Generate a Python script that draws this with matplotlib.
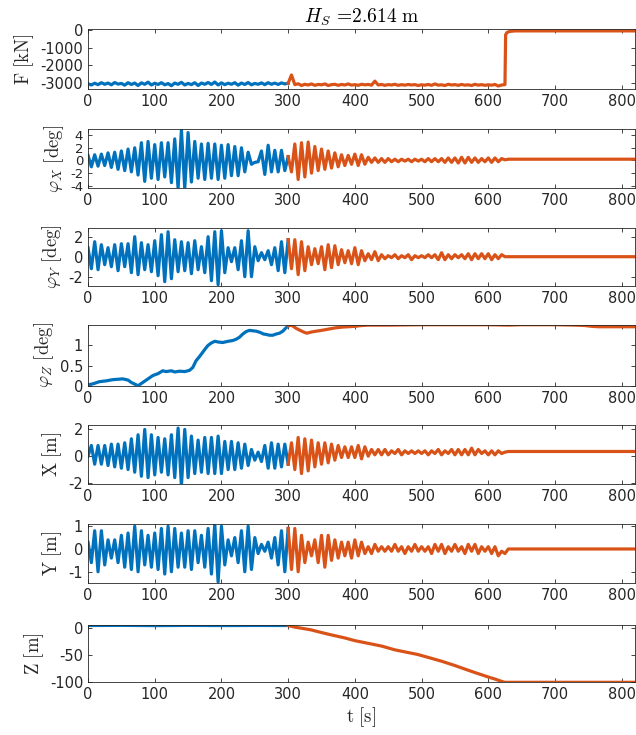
import numpy as np
import matplotlib
matplotlib.use('Agg')
import matplotlib.pyplot as plt

# time grids (s): blue = first phase, orange = second phase
t_blue = np.arange(0, 301, 5)
t_orange = np.arange(300, 626, 5)

# F [kN]
F_blue = [-3050, -3120, -3020, -3100, -2990, -3080, -3010, -3110, -2980, -3070,
          -3030, -3130, -2990, -3090, -3010, -3150, -3000, -3080, -2960, -3120,
          -3020, -3090, -2990, -3110, -3040, -3160, -3010, -3080, -2970, -3120,
          -3030, -3100, -2990, -3150, -3010, -3080, -2980, -3090, -2950, -3120,
          -3000, -3100, -3020, -3080, -2990, -3130, -3010, -3090, -2980, -3110,
          -3030, -3080, -3000, -3100, -2990, -3080, -3010, -3090, -3000, -3060,
          -3020]
F_orange = [-3020, -2550, -3100, -3050, -3150, -3080, -3120, -3060, -3140, -3090,
            -3110, -3060, -3150, -3100, -3080, -3140, -3090, -3120, -3060, -3130,
            -3100, -3140, -3080, -3110, -3090, -3130, -2900, -3120, -3090, -3140,
            -3100, -3120, -3080, -3140, -3100, -3130, -3090, -3120, -3100, -3150,
            -3110, -3130, -3090, -3140, -3060, -3130, -3110, -3150, -3080, -3120,
            -3100, -3140, -3090, -3130, -3110, -3150, -3080, -3130, -3100, -3140,
            -3110, -3130, -3090, -3180, -3120, -3100]
F_tail_t = [626, 628, 632, 640, 820]
F_tail = [-250, -120, -60, -30, -30]

# roll phi_X [deg]
phix_blue = [0.8, -1.0, 0.9, -0.9, 1.0, -0.8, 1.2, -1.1, 1.3, -1.4,
             1.5, -1.6, 1.8, -1.8, 2.0, -2.3, 2.8, -3.3, 3.0, -2.8,
             2.5, -3.0, 2.8, -2.6, 2.8, -3.5, 3.4, -4.4, 4.8, -4.4,
             4.4, -3.4, 3.0, -2.8, 2.6, -3.0, 2.7, -2.8, 2.6, -3.0,
             2.4, -2.8, 2.5, -2.4, 2.2, -2.4, 2.0, -1.8, 1.3, -0.6,
             -0.3, -0.2, 1.5, -2.2, 2.4, -1.8, 1.6, -1.8, 1.6, -1.6,
             0.6]
phix_orange = [0.6, -1.8, 2.6, -3.0, 2.8, -2.6, 2.9, -2.0, 2.2, -1.6,
               1.8, -1.4, 1.5, -1.2, 1.2, -1.0, 0.9, -0.8, 0.8, -0.6,
               1.0, -0.8, 0.9, -0.6, 0.5, -0.3, 0.4, -0.3, 0.3, -0.3,
               0.3, -0.2, 0.2, -0.2, 0.2, -0.1, 0.2, -0.2, 0.2, -0.1,
               0.2, -0.2, 0.3, -0.2, 0.3, -0.2, 0.3, -0.3, 0.4, -0.3,
               0.4, -0.4, 0.5, -0.4, 0.5, -0.3, 0.4, -0.3, 0.3, -0.2,
               0.4, -0.3, 0.4, -0.2, 0.3, 0.1]
phix_tail_t = [630, 820]
phix_tail = [0.2, 0.2]

# pitch phi_Y [deg]
phiy_blue = [0.9, -1.2, 1.5, -1.3, 1.2, -0.8, 0.9, -1.0, 1.2, -1.4,
             1.3, -1.0, 1.3, -1.6, 2.0, -1.8, 1.4, -1.3, 1.2, -1.5,
             1.6, -1.9, 2.2, -2.5, 2.5, -2.2, 1.7, -1.5, 1.5, -1.4,
             1.4, -1.7, 1.6, -1.3, 1.0, -1.6, 2.0, -2.4, 2.5, -2.8,
             2.6, -1.6, 0.9, -0.5, 0.9, -1.3, 1.6, -2.0, 2.6, -2.0,
             1.0, -0.4, 0.4, -0.3, 0.6, -0.8, 0.9, -1.4, 1.5, -1.6,
             1.7]
phiy_orange = [1.7, -1.2, 1.7, -1.8, 1.5, -1.4, 1.0, -0.8, 0.8, -0.7,
               1.0, -1.3, 1.2, -1.1, 1.1, -0.8, 0.7, -0.6, 0.6, -0.7,
               0.9, -0.8, 0.6, -0.4, 0.3, -0.3, 0.5, -0.4, 0.2, -0.2,
               0.1, -0.1, 0.2, -0.2, 0.1, -0.1, 0.2, -0.3, 0.1, -0.1,
               0.1, -0.1, 0.2, -0.1, 0.2, -0.3, 0.4, -0.3, 0.2, -0.2,
               0.2, -0.1, 0.2, -0.2, 0.3, -0.3, 0.3, -0.2, 0.3, -0.2,
               0.3, -0.3, 0.2, -0.2, 0.2, 0.0]
phiy_tail_t = [630, 820]
phiy_tail = [0.0, 0.0]

# yaw phi_Z [deg]
phiz_blue_t = [0, 8, 17, 27, 37, 45, 52, 60, 65, 70,
               75, 82, 90, 97, 105, 112, 117, 125, 130, 137,
               145, 152, 157, 162, 167, 172, 176, 180, 185, 190,
               196, 202, 210, 217, 222, 227, 232, 237, 242, 247,
               252, 258, 263, 267, 272, 277, 282, 287, 292, 296,
               300]
phiz_blue = [0.02, 0.05, 0.10, 0.12, 0.15, 0.16, 0.17, 0.14, 0.08, 0.04,
             0.0, 0.08, 0.17, 0.25, 0.30, 0.37, 0.35, 0.37, 0.34, 0.36,
             0.35, 0.38, 0.45, 0.62, 0.72, 0.83, 0.92, 1.0, 1.06, 1.1,
             1.08, 1.07, 1.1, 1.12, 1.15, 1.2, 1.28, 1.34, 1.37, 1.36,
             1.35, 1.32, 1.28, 1.27, 1.25, 1.25, 1.28, 1.3, 1.35, 1.42,
             1.48]
phiz_orange_t = [300, 305, 312, 318, 323, 328, 335, 342, 350, 360,
                 370, 380, 390, 400, 410, 420, 450, 500, 550, 600,
                 630, 650, 680, 700, 730, 745, 755, 765, 790, 820]
phiz_orange = [1.48, 1.5, 1.42, 1.37, 1.33, 1.30, 1.33, 1.35, 1.37, 1.40,
               1.43, 1.45, 1.46, 1.47, 1.49, 1.50, 1.50, 1.51, 1.51, 1.51,
               1.50, 1.51, 1.51, 1.51, 1.50, 1.49, 1.47, 1.46, 1.46, 1.46]

# surge X [m]
x_blue = [0.0, 0.8, -0.6, 0.8, -0.6, 0.8, -0.7, 0.9, -0.8, 0.9,
          -0.9, 1.0, -1.0, 1.3, -1.2, 1.6, -1.5, 2.0, -1.6, 1.6,
          -1.4, 1.4, -1.2, 1.3, -1.4, 1.6, -1.6, 2.1, -2.2, 2.0,
          -1.6, 1.5, -1.3, 1.2, -1.2, 1.4, -1.3, 1.4, -1.3, 1.5,
          -1.3, 1.1, -1.0, 1.1, -1.0, 1.0, -0.9, 0.9, -0.7, 0.5,
          -0.3, 0.3, -0.4, 0.8, -0.9, 1.0, -0.9, 0.9, -0.8, 0.9,
          -0.6]
x_orange = [-0.6, 1.0, -1.0, 1.4, -1.3, 1.3, -1.1, 1.2, -0.8, 1.0,
            -0.6, 1.0, -0.5, 0.9, -0.3, 0.8, -0.1, 0.7, -0.1, 0.7,
            -0.1, 0.8, -0.2, 0.7, 0.0, 0.5, 0.1, 0.5, 0.1, 0.5,
            0.1, 0.4, 0.2, 0.5, 0.1, 0.4, 0.2, 0.4, 0.2, 0.4,
            0.2, 0.4, 0.1, 0.4, 0.2, 0.5, 0.1, 0.4, 0.2, 0.5,
            0.1, 0.5, 0.1, 0.5, 0.1, 0.6, 0.1, 0.5, 0.2, 0.4,
            0.1, 0.4, 0.1, 0.4, 0.2, 0.3]
x_tail_t = [630, 820]
x_tail = [0.35, 0.35]

# sway Y [m]
y_blue = [0.3, -0.6, 0.8, -1.0, 0.8, -0.7, 0.4, -0.4, 0.4, -0.6,
          0.6, -0.8, 0.7, -0.9, 1.0, -1.0, 0.8, -0.7, 0.6, -0.8,
          0.7, -0.9, 0.9, -1.1, 1.0, -1.0, 0.9, -0.8, 0.7, -0.8,
          0.8, -0.9, 0.8, -0.6, 0.6, -0.8, 0.9, -1.1, 1.1, -1.45,
          1.0, -0.7, 0.4, -0.3, 0.5, -0.6, 0.8, -1.0, 1.0, -0.9,
          0.5, -0.2, 0.2, -0.1, 0.3, -0.4, 0.5, -0.7, 0.8, -1.0,
          0.9]
y_orange = [0.9, -0.9, 0.9, -1.0, 0.6, -0.6, 0.3, -0.3, 0.4, -0.6,
            0.6, -0.8, 0.6, -0.5, 0.4, -0.4, 0.3, -0.3, 0.3, -0.4,
            0.4, -0.3, 0.3, -0.2, 0.1, -0.2, 0.2, -0.1, 0.1, -0.1,
            0.1, -0.1, 0.2, -0.1, 0.1, -0.2, 0.1, -0.1, 0.2, -0.1,
            0.1, -0.1, 0.1, -0.2, 0.2, -0.1, 0.2, -0.2, 0.1, -0.1,
            0.2, -0.1, 0.1, -0.2, 0.2, -0.1, 0.2, -0.2, 0.1, -0.1,
            0.1, -0.2, 0.1, -0.3, -0.1, -0.2]
y_tail_t = [630, 820]
y_tail = [0.0, 0.0]

# heave Z [m]
z_blue_t = [0, 50, 100, 150, 200, 250, 300]
z_blue = [5.0, 5.3, 4.8, 5.2, 4.9, 5.1, 5.0]
z_orange_t = [300, 310, 320, 334, 350, 360, 385, 400, 420, 440, 460, 480,
              494, 510, 530, 550, 566, 580, 602, 610, 617, 623, 625, 820]
z_orange = [5, 2, 0, -3, -8, -11, -18, -23, -28, -33, -40, -45,
            -48.5, -54, -61, -69, -76, -82, -91, -94, -97, -99.5, -100, -100]

blue = '#0072BD'
orange = '#D95319'
edge = '#262626'

plt.rcParams.update({
    'font.family': 'DejaVu Sans',
    'font.size': 10.5,
    'axes.unicode_minus': False,
    'mathtext.fontset': 'cm',
    'axes.linewidth': 0.6,
    'axes.edgecolor': edge,
    'xtick.color': edge,
    'ytick.color': edge,
    'xtick.direction': 'in',
    'ytick.direction': 'in',
    'xtick.top': True,
    'ytick.right': True,
    'xtick.major.size': 3,
    'ytick.major.size': 3,
    'xtick.major.width': 0.6,
    'ytick.major.width': 0.6,
})

fig = plt.figure(figsize=(6.36, 7.35), dpi=100)

panels = [
    # (bottom, height, blue series, orange series, ylabel, ylim, yticks, yticklabels)
    (0.8789, 0.0812, (t_blue, F_blue), (list(t_orange) + F_tail_t, F_orange + F_tail),
     r'$\mathrm{F\ [kN]}$', (-3350, 60), [-3000, -2000, -1000, 0], None),
    (0.7437, 0.0807, (t_blue, phix_blue), (list(t_orange) + phix_tail_t, phix_orange + phix_tail),
     r'$\varphi_X\ \mathrm{[deg]}$', (-4.4, 4.95), [-4, -2, 0, 2, 4], None),
    (0.6113, 0.0789, (t_blue, phiy_blue), (list(t_orange) + phiy_tail_t, phiy_orange + phiy_tail),
     r'$\varphi_Y\ \mathrm{[deg]}$', (-2.9, 2.9), [-2, 0, 2], None),
    (0.4752, 0.0830, (phiz_blue_t, phiz_blue), (phiz_orange_t, phiz_orange),
     r'$\varphi_Z\ \mathrm{[deg]}$', (0, 1.51), [0, 0.5, 1], ['0', '0.5', '1']),
    (0.3411, 0.0807, (t_blue, x_blue), (list(t_orange) + x_tail_t, x_orange + x_tail),
     r'$\mathrm{X\ [m]}$', (-2.1, 2.33), [-2, 0, 2], None),
    (0.2072, 0.0800, (t_blue, y_blue), (list(t_orange) + y_tail_t, y_orange + y_tail),
     r'$\mathrm{Y\ [m]}$', (-1.48, 1.1), [-1, 0, 1], None),
    (0.0717, 0.0780, (z_blue_t, z_blue), (z_orange_t, z_orange),
     r'$\mathrm{Z\ [m]}$', (-100, 6), [-100, -50, 0], None),
]

axes = []
for bottom, height, sb, so, lab, yl, yt, ytl in panels:
    ax = fig.add_axes([0.1384, bottom, 0.8601, height])
    ax.plot(sb[0], sb[1], color=blue, lw=2.3)
    ax.plot(so[0], so[1], color=orange, lw=2.3)
    ax.set_xlim(0, 820)
    ax.set_ylim(*yl)
    ax.set_xticks(range(0, 801, 100))
    ax.set_yticks(yt)
    if ytl is not None:
        ax.set_yticklabels(ytl)
    ax.set_ylabel(lab, fontsize=13.5, color=edge, labelpad=3)
    axes.append(ax)

# densely packed roll ticks: a touch smaller so they do not collide
axes[1].tick_params(axis='y', labelsize=9.5)

axes[0].set_title(r'$H_S\,=\!\mathrm{2.614\ m}$', fontsize=14, color='black', pad=5)
axes[-1].set_xlabel(r'$\mathrm{t\ [s]}$', fontsize=13.5, color=edge, labelpad=2)

fig.savefig('out.png', dpi=100)
